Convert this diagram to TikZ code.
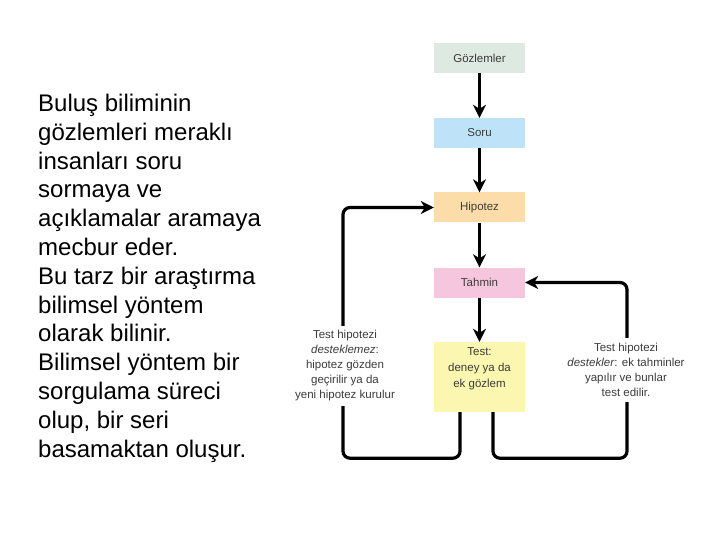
\documentclass[tikz,border=0pt]{standalone}
\usepackage{fontspec}
\setmainfont{Liberation Sans}
\usetikzlibrary{arrows.meta}
\definecolor{gozcol}{HTML}{DDE9E1}
\definecolor{sorucol}{HTML}{BEE3F8}
\definecolor{hipcol}{HTML}{FCDDA9}
\definecolor{tahcol}{HTML}{F6C5DE}
\definecolor{testcol}{HTML}{FBF6B0}
\definecolor{stepink}{HTML}{3C3C3C}
\tikzset{
	stage/.style={rectangle, minimum width=91pt, minimum height=30pt, inner sep=0pt, text=stepink, font=\fontsize{11.5}{16}\selectfont, align=center},
	note/.style={fill=white, inner xsep=2pt, inner ysep=5pt, text=stepink, font=\fontsize{11.5}{15}\selectfont, align=center},
	flow/.style={line width=3.2pt, -{Stealth[length=13pt, width=13pt, inset=4pt]}},
	loop/.style={flow, rounded corners=7pt},
}

\begin{document}
\begin{tikzpicture}[x=1pt, y=-1pt]
				\useasboundingbox (0,0) rectangle (720,540);
				% left paragraph
				\node[anchor=base west, inner sep=0pt, align=left, font=\fontsize{24}{28.8}\selectfont] (intro) at (38,457)
					{Buluş biliminin\\gözlemleri meraklı\\insanları soru\\sormaya ve\\açıklamalar aramaya\\mecbur eder.\\Bu tarz bir araştırma\\bilimsel yöntem\\olarak bilinir.\\Bilimsel yöntem bir\\sorgulama süreci\\olup, bir seri\\basamaktan oluşur.};
				% stages
				\node[stage, fill=gozcol] (goz) at (479.5,58) {Gözlemler};
				\node[stage, fill=sorucol] (soru) at (479.5,133) {Soru};
				\node[stage, fill=hipcol] (hip) at (479.5,207.5) {Hipotez};
				\node[stage, fill=tahcol] (tah) at (479.5,282.5) {Tahmin};
				\node[stage, fill=testcol, minimum height=70pt] (test) at (479.5,377)
					{\raisebox{0pt}[\height][\dimexpr\depth+18pt\relax]{\begin{tabular}{@{}c@{}}Test:\\deney ya da\\ek gözlem\end{tabular}}};
				\draw[flow] (goz) -- (soru);
				\draw[flow] (soru) -- (hip);
				\draw[flow] (hip) -- (tah);
				\draw[flow] (tah) -- (test);
				% feedback loops
				\coordinate (lout) at ([xshift=-19.5pt]test.south);
				\coordinate (rout) at ([xshift=13.5pt]test.south);
				\draw[loop] (lout) -- ++(0,46) -| (343,207.5) -- (hip.west);
				\draw[loop] (rout) -- ++(0,46) -| (627,282.5) -- (tah.east);
				\node[note] (fail) at (345,366) {Test hipotezi\\\textit{desteklemez}:\\hipotez gözden\\geçirilir ya da\\yeni hipotez kurulur};
				\node[note] (pass) at (626,370) {Test hipotezi\\\textit{destekler}: ek tahminler\\yapılır ve bunlar\\test edilir.};
			\end{tikzpicture}
\end{document}
